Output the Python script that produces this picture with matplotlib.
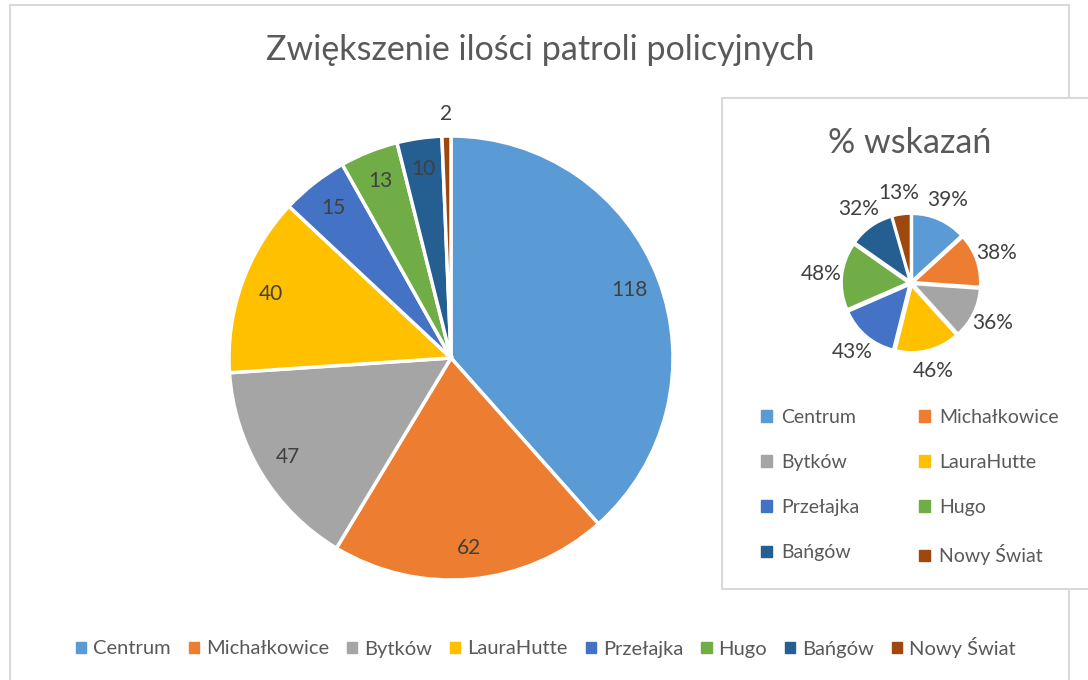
import matplotlib.pyplot as plt
from matplotlib.patches import Rectangle, Patch

# data
districts = ["Centrum", "Michałkowice", "Bytków", "LauraHutte",
             "Przełajka", "Hugo", "Bańgów", "Nowy Świat"]
patrols = [118, 62, 47, 40, 15, 13, 10, 2]
pct_votes = [39, 38, 36, 46, 43, 48, 32, 13]

colours = ["#5B9BD5", "#ED7D31", "#A5A5A5", "#FFC000",
           "#4472C4", "#70AD47", "#255E91", "#9E480E"]
text_grey = "#595959"
label_grey = "#404040"

plt.rcParams['font.family'] = ['Lato', 'DejaVu Sans']

W, H = 1088, 680
fig = plt.figure(figsize=(W / 100, H / 100), dpi=100)
fig.patch.set_facecolor("white")


def px_axes(cx, cy, r):
    # axes box in figure fraction from pixel centre / radius
    return fig.add_axes([(cx - r) / W, (H - cy - r) / H, 2 * r / W, 2 * r / H])


# outer chart frame and the inner chart frame
fig.patches.append(Rectangle((10 / W, -0.05), (1069 - 10) / W, (H - 5) / H + 0.05,
                             transform=fig.transFigure, fill=False,
                             edgecolor="#D9D9D9", linewidth=1.5))
fig.patches.append(Rectangle((722 / W, (H - 589) / H), 0.5, (589 - 98) / H,
                             transform=fig.transFigure, facecolor="white",
                             edgecolor="#D9D9D9", linewidth=1.5, zorder=2))

fig.text(540 / W, 1 - 50 / H, "Zwiększenie ilości patroli policyjnych",
         ha="center", va="center", fontsize=24.5, color=text_grey)

# main pie
total = sum(patrols)
ax = px_axes(451, 358, 222)
wedges, texts, autotexts = ax.pie(
    patrols, colors=colours, startangle=90, counterclock=False, radius=1,
    autopct=lambda p: "{:d}".format(int(round(p * total / 100.0))),
    pctdistance=0.86,
    wedgeprops=dict(edgecolor="white", linewidth=2.5),
    textprops=dict(color=label_grey, fontsize=15))
# the tiny slice gets its label outside
x, y = autotexts[-1].get_position()
autotexts[-1].set_position((x * 1.1 / 0.86, y * 1.1 / 0.86))
ax.set_xlim(-1, 1)
ax.set_ylim(-1, 1)
ax.set_zorder(3)

# inner pie
vote_total = sum(pct_votes)
ax2 = px_axes(911, 283, 69)
ax2.pie(pct_votes, colors=colours, startangle=90, counterclock=False,
        radius=0.95, explode=[0.05] * len(pct_votes),
        autopct=lambda p: "{:d}%".format(int(round(p * vote_total / 100.0))),
        pctdistance=1.33,
        wedgeprops=dict(edgecolor="white", linewidth=1.2),
        textprops=dict(color=label_grey, fontsize=15))
ax2.set_xlim(-1, 1)
ax2.set_ylim(-1, 1)
ax2.set_zorder(3)

fig.text(910 / W, 1 - 143 / H, "% wskazań", ha="center", va="center",
         fontsize=24.5, color=text_grey, zorder=4)

handles = [Patch(facecolor=c, edgecolor=c) for c in colours]

# inner legend, row-major order in two columns
order = [0, 2, 4, 6, 1, 3, 5, 7]
leg2 = fig.legend([handles[i] for i in order], [districts[i] for i in order],
                  ncol=2, loc="center", bbox_to_anchor=(910 / W, 1 - 487 / H),
                  frameon=False, fontsize=14, labelcolor=text_grey,
                  handlelength=0.55, handleheight=0.55, handletextpad=0.45,
                  columnspacing=3.1, labelspacing=1.45)
leg2.set_zorder(5)

# bottom legend
fig.legend(handles, districts, ncol=8, loc="center",
           bbox_to_anchor=(546 / W, 1 - 647 / H), frameon=False,
           fontsize=14.5, labelcolor=text_grey, handlelength=0.5,
           handleheight=0.5, handletextpad=0.35, columnspacing=0.9)

fig.savefig("out.png", dpi=100, facecolor="white")
